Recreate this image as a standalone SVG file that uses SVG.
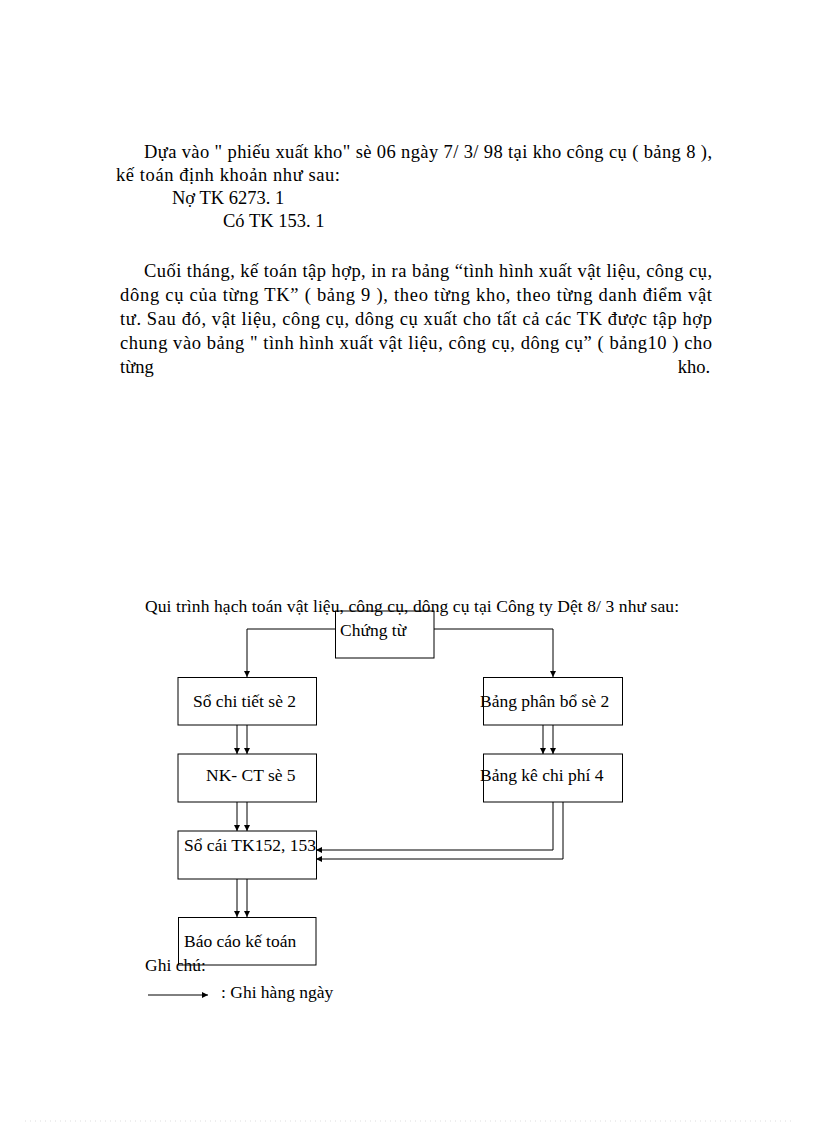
<svg xmlns="http://www.w3.org/2000/svg" width="816" height="1123" viewBox="0 0 816 1123">
<defs>
<style>
.body{font-family:"Liberation Serif","Times New Roman",serif;font-size:18.5px;fill:#000}
.lbl{font-family:"Liberation Serif","Times New Roman",serif;font-size:17.5px;fill:#000}
.box{fill:none;stroke:#000;stroke-width:1}
.con{fill:none;stroke:#000;stroke-width:1}
</style>
<marker id="ah" markerUnits="userSpaceOnUse" markerWidth="7" markerHeight="7" refX="6" refY="3" orient="auto">
<path d="M0,0 L6,3 L0,6 z" fill="#000"/>
</marker>
</defs>
<rect width="816" height="1123" fill="#fff"/>

<g id="text-top">
<text class="body" x="144" y="158" textLength="568" lengthAdjust="spacing">Dựa vào " phiếu xuất kho" sè 06 ngày 7/ 3/ 98 tại kho công cụ ( bảng 8 ),</text>
<text class="body" x="116" y="181" textLength="224" lengthAdjust="spacing">kế toán định khoản như sau:</text>
<text class="body" x="172" y="204">Nợ TK 6273. 1</text>
<text class="body" x="223" y="227">Có TK 153. 1</text>
<text class="body" x="144" y="277" textLength="568" lengthAdjust="spacing">Cuối tháng, kế toán tập hợp, in ra bảng “tình hình xuất vật liệu,  công cụ,</text>
<text class="body" x="120" y="301" textLength="592" lengthAdjust="spacing">dông cụ của từng TK” ( bảng 9 ), theo từng kho, theo từng danh điểm vật</text>
<text class="body" x="120" y="325" textLength="592" lengthAdjust="spacing">tư. Sau đó, vật liệu,  công cụ, dông cụ xuất  cho tất  cả các TK được tập hợp</text>
<text class="body" x="120" y="349" textLength="592" lengthAdjust="spacing">chung vào bảng " tình hình xuất vật liệu,  công cụ, dông cụ” ( bảng10 ) cho</text>
<text class="body" x="120" y="373">từng</text>
<text class="body" x="710" y="373" text-anchor="end">kho.</text>
</g>

<g id="title">
<text class="lbl" x="145" y="612" textLength="534" lengthAdjust="spacing">Qui trình hạch toán vật  liệu, công cụ, dông cụ tại Công ty Dệt 8/ 3 như sau:</text>
</g>

<g id="connectors">
<polyline class="con" points="335,629 247,629 247,677" marker-end="url(#ah)"/>
<polyline class="con" points="434,629 553,629 553,677" marker-end="url(#ah)"/>
<line class="con" x1="237" y1="725" x2="237" y2="754" marker-end="url(#ah)"/>
<line class="con" x1="247" y1="725" x2="247" y2="754" marker-end="url(#ah)"/>
<line class="con" x1="543" y1="725" x2="543" y2="754" marker-end="url(#ah)"/>
<line class="con" x1="553" y1="725" x2="553" y2="754" marker-end="url(#ah)"/>
<line class="con" x1="237" y1="802" x2="237" y2="831" marker-end="url(#ah)"/>
<line class="con" x1="247" y1="802" x2="247" y2="831" marker-end="url(#ah)"/>
<polyline class="con" points="553,802 553,850 316,850" marker-end="url(#ah)"/>
<polyline class="con" points="563,802 563,859 316,859" marker-end="url(#ah)"/>
<line class="con" x1="237" y1="879" x2="237" y2="917" marker-end="url(#ah)"/>
<line class="con" x1="247" y1="879" x2="247" y2="917" marker-end="url(#ah)"/>
</g>

<g id="chung-tu">
<rect class="box" x="335.5" y="611" width="98.5" height="47"/>
<text class="lbl" x="340" y="636">Chứng từ</text>
</g>
<g id="so-chi-tiet">
<rect class="box" x="178" y="677.5" width="138.5" height="47.5"/>
<text class="lbl" x="193" y="707">Sổ chi tiết sè 2</text>
</g>
<g id="bang-phan-bo">
<rect class="box" x="483.5" y="677.5" width="139" height="47.5"/>
<text class="lbl" x="480" y="707">Bảng phân bổ sè 2</text>
</g>
<g id="nk-ct">
<rect class="box" x="178" y="754" width="138.5" height="48"/>
<text class="lbl" x="206" y="781">NK- CT sè 5</text>
</g>
<g id="bang-ke">
<rect class="box" x="483.5" y="754" width="139" height="48"/>
<text class="lbl" x="480" y="781">Bảng kê chi phí 4</text>
</g>
<g id="so-cai">
<rect class="box" x="178" y="831" width="138.5" height="48"/>
<text class="lbl" x="184" y="851">Sổ cái TK152, 153</text>
</g>
<g id="bao-cao">
<rect class="box" x="178.5" y="917.5" width="137.5" height="47.5"/>
<text class="lbl" x="184" y="947">Báo cáo kế toán</text>
</g>

<g id="legend">
<text class="lbl" x="145" y="971">Ghi chú:</text>
<line class="con" x1="148" y1="995" x2="208" y2="995" marker-end="url(#ah)"/>
<text class="lbl" x="221" y="998">: Ghi hàng ngày</text>
</g>

<line x1="25" y1="1121" x2="792" y2="1121" stroke="#ddd" stroke-width="1" stroke-dasharray="1,4"/>
</svg>
